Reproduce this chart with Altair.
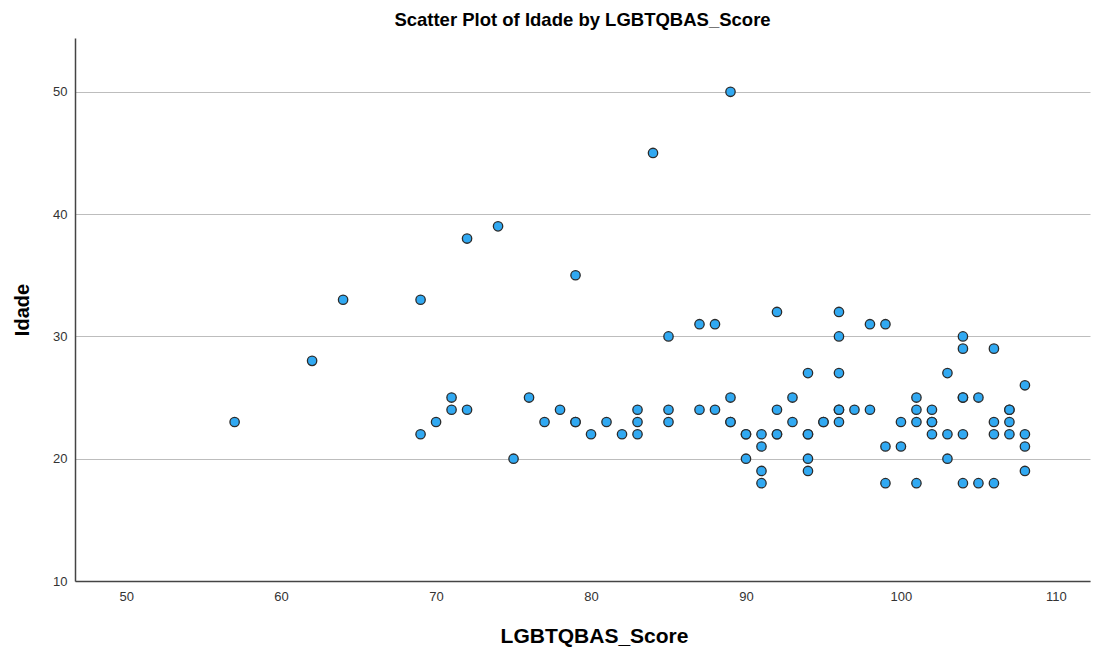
import altair as alt
import pandas as pd

score = [57, 62, 64, 69, 69, 70, 71, 71, 72, 72, 74, 75, 76, 77, 78, 79, 79, 79,
         80, 81, 82, 83, 83, 83, 84, 85, 85, 85, 87, 87, 88, 88, 89, 89, 89, 89,
         90, 90, 90, 91, 91, 91, 91, 92, 92, 92, 92, 93, 93, 94, 94, 94, 94, 94,
         95, 95, 96, 96, 96, 96, 96, 96, 97, 98, 98, 99, 99, 99, 100, 100,
         101, 101, 101, 101, 102, 102, 102, 102, 103, 103, 103, 104, 104, 104, 104, 104, 104,
         105, 105, 106, 106, 106, 106, 107, 107, 107, 107, 108, 108, 108, 108]
idade = [23, 28, 33, 33, 22, 23, 25, 24, 38, 24, 39, 20, 25, 23, 24, 35, 23, 23,
         22, 23, 22, 24, 23, 22, 45, 30, 24, 23, 31, 24, 31, 24, 50, 25, 23, 23,
         22, 22, 20, 22, 21, 19, 18, 32, 24, 22, 22, 25, 23, 27, 22, 22, 20, 19,
         23, 23, 32, 30, 27, 24, 24, 23, 24, 31, 24, 31, 21, 18, 23, 21,
         25, 24, 23, 18, 24, 23, 23, 22, 27, 22, 20, 30, 29, 25, 25, 22, 18,
         25, 18, 29, 23, 22, 18, 24, 24, 23, 22, 26, 22, 21, 19]

x_ticks = [50, 60, 70, 80, 90, 100, 110]
y_ticks = [10, 20, 30, 40, 50]

df = pd.DataFrame({"LGBTQBAS_Score": score, "Idade": idade})

FONT = "Liberation Sans"

chart = alt.Chart(df).mark_point(
    filled=True, shape="circle", size=88, fill="#31A9F2",
    stroke="#2b2b2b", strokeWidth=1.3, opacity=1
).encode(
    x=alt.X("LGBTQBAS_Score:Q",
            scale=alt.Scale(domain=[46.7, 112.2], nice=False, zero=False),
            axis=alt.Axis(values=x_ticks, grid=False, ticks=False, labelPadding=9,
                          labelFontSize=13, labelColor="#333333", labelFont=FONT,
                          domainColor="#444444", domainWidth=1.5,
                          title="LGBTQBAS_Score", titleFontSize=21, titleFont=FONT,
                          titleFontWeight="bold", titleColor="#000000",
                          titleX=519, titleY=55, titleBaseline="middle", titleAlign="center")),
    y=alt.Y("Idade:Q",
            scale=alt.Scale(domain=[10, 54.4], nice=False, zero=False),
            axis=alt.Axis(values=y_ticks, grid=True, gridColor="#bdbdbd", gridWidth=1,
                          ticks=False, labelPadding=8,
                          labelFontSize=13, labelColor="#333333", labelFont=FONT,
                          domainColor="#444444", domainWidth=1.5,
                          title="Idade", titleFontSize=20, titleFont=FONT,
                          titleFontWeight="bold", titleColor="#000000",
                          titleAngle=-90, titleX=-53, titleY=271.5,
                          titleBaseline="middle", titleAlign="center")),
).properties(
    width=1015, height=543,
    autosize=alt.AutoSizeParams(type="none"),
    padding={"left": 67, "top": 30, "right": 6, "bottom": 68},
    title=alt.TitleParams("Scatter Plot of Idade by LGBTQBAS_Score", font=FONT,
                          fontSize=18.5, fontWeight="bold", color="#000000",
                          anchor="middle", offset=9),
).configure_view(stroke=None).configure_axis(gridOpacity=1)

chart.save("out.html", embed_options={"renderer": "svg", "actions": False})
